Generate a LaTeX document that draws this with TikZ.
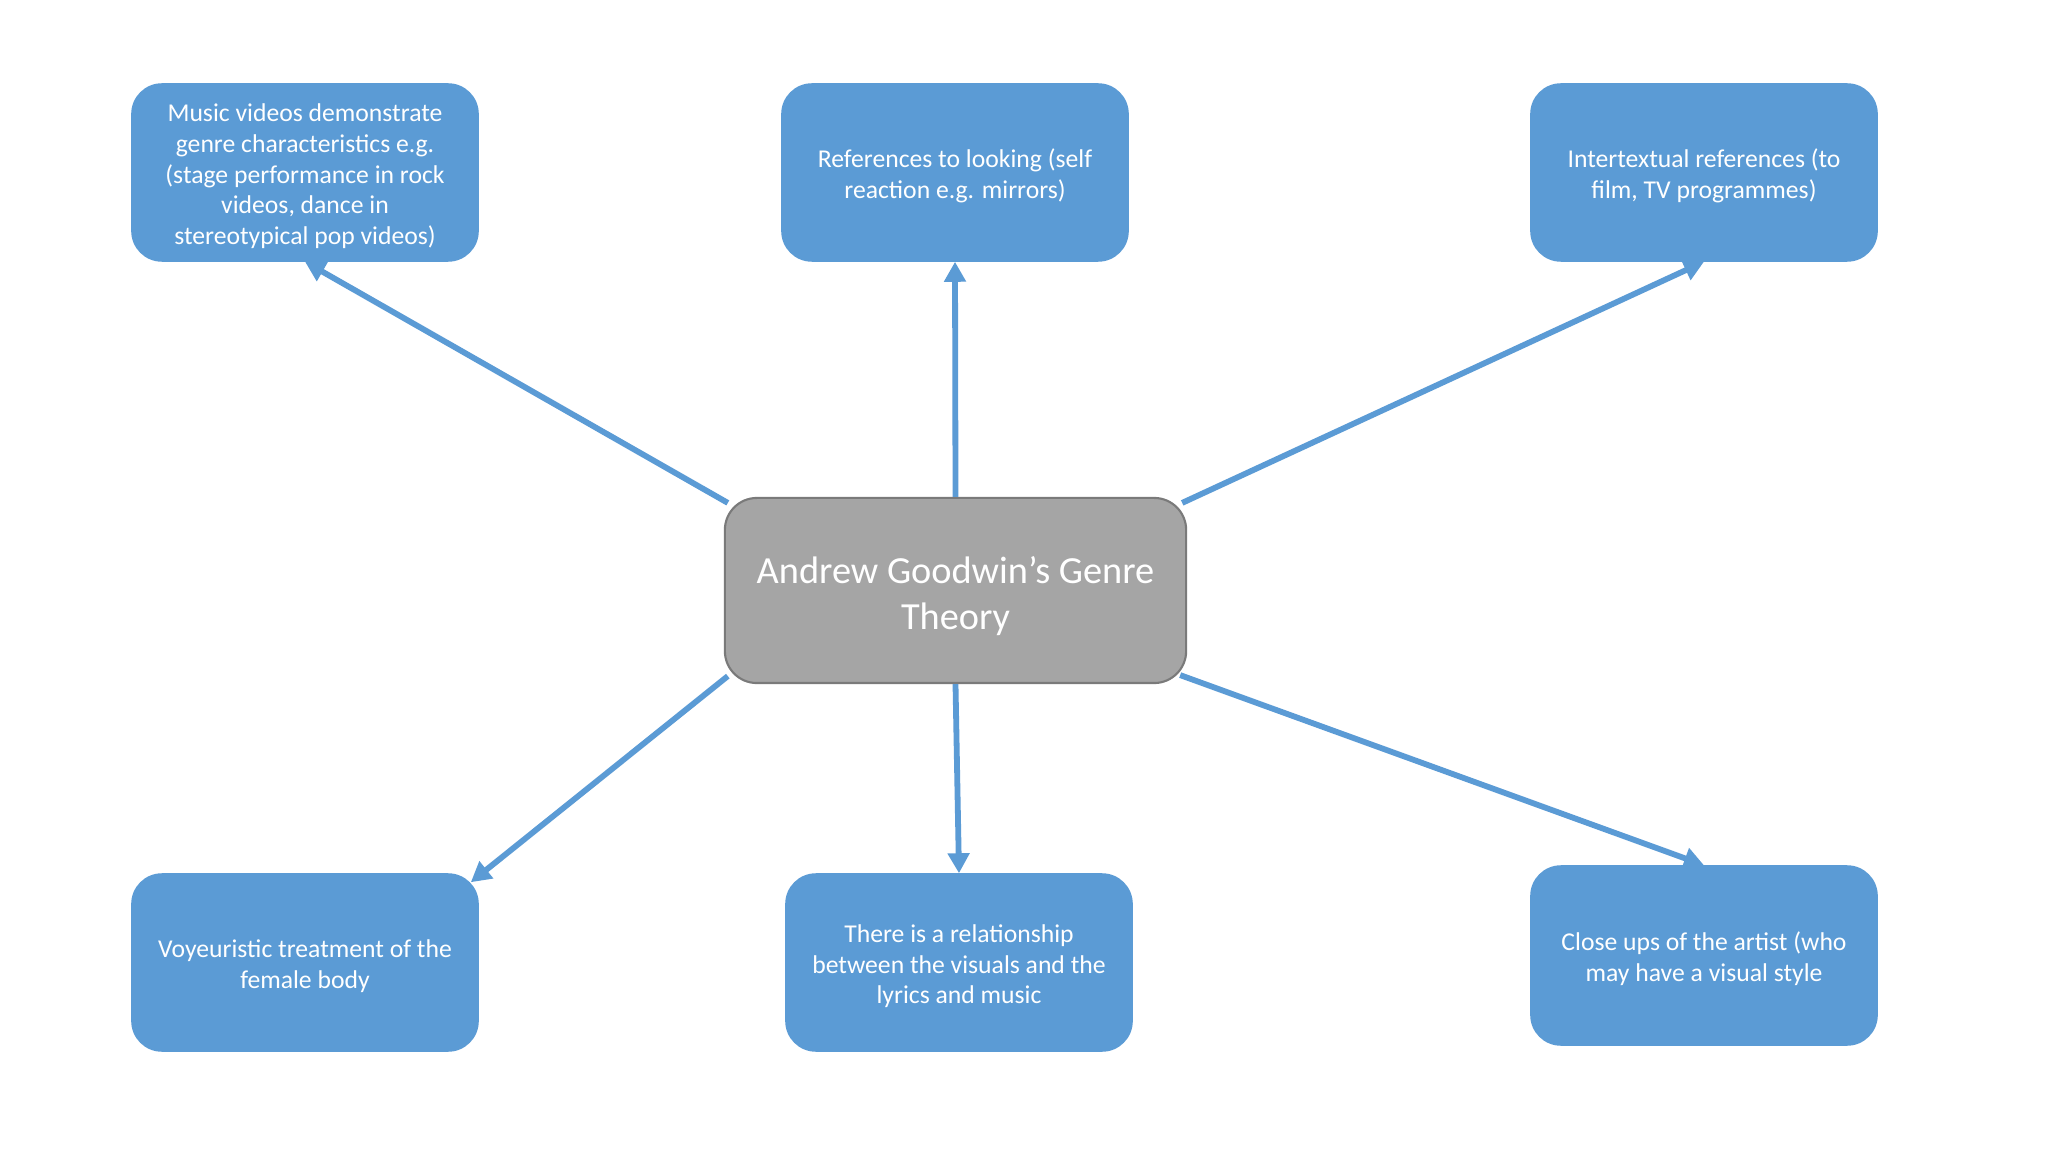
\documentclass[tikz,border=0pt]{standalone}
\usepackage{fontspec}
\setmainfont{Carlito}
\usetikzlibrary{arrows.meta,calc}
\definecolor{boxblue}{HTML}{5B9BD5}
\definecolor{boxgray}{HTML}{A5A5A5}
\definecolor{grayedge}{HTML}{7A7A7A}
\newcommand\myTopStrut{\rule{0pt}{1.1em}}
\newcommand\myBotStrut{\rule[-0.269em]{0pt}{0pt}}
\tikzset{
  bluebox/.style={draw=boxblue, fill=boxblue, rounded corners=0.3cm, minimum width=3.46cm, minimum height=1.77cm, align=center, text=white, font=\fontsize{7.3pt}{8.75pt}\selectfont, inner sep=0pt},
  centerbox/.style={draw=grayedge, line width=0.6pt, fill=boxgray, rounded corners=0.32cm, minimum width=4.61cm, minimum height=1.85cm, align=center, text=white, font=\fontsize{10.9pt}{13pt}\selectfont, inner sep=0pt},
  link/.style={draw=boxblue, line width=0.058cm, -{Triangle[length=0.2cm,width=0.21cm]}}
}
\begin{document}
\begin{tikzpicture}[x=0.01cm,y=-0.01cm]
\useasboundingbox[fill=white] (0,0) rectangle (2048,1152);
\node[centerbox] (c) at (955.5,590.5) {\myTopStrut Andrew Goodwin’s Genre\\Theory\myBotStrut};
\node[bluebox] (tl) at (305,172.5) {\myTopStrut Music videos demonstrate\\genre characteristics e.g.\\(stage performance in rock\\videos, dance in\\stereotypical pop videos)\myBotStrut};
\node[bluebox] (tm) at (955,172.5) {\myTopStrut References to looking (self\\reaction e.g. mirrors)\myBotStrut};
\node[bluebox] (tr) at (1704,172.5) {\myTopStrut Intertextual references (to\\film, TV programmes)\myBotStrut};
\node[bluebox] (bl) at (305,962.5) {\myTopStrut Voyeuristic treatment of the\\female body\myBotStrut};
\node[bluebox] (bm) at (959,962.5) {\myTopStrut There is a relationship\\between the visuals and the\\lyrics and music\myBotStrut};
\node[bluebox, minimum height=1.79cm] (br) at (1704,955.5) {\myTopStrut Close ups of the artist (who\\may have a visual style\myBotStrut};
\coordinate (blend) at ($(bl.north east)+(-8,9)$);
\draw[link] ($(c.north west)+(4,6)$) -- (tl.south);
\draw[link] (c.north) -- (tm.south);
\draw[link] ($(c.north east)+(-5,6)$) -- (tr.south);
\draw[link] ($(c.south west)+(4,-8)$) -- (blend);
\draw[link] (c.south) -- (bm.north);
\draw[link] ($(c.south east)+(-7,-9)$) -- (br.north);
\end{tikzpicture}
\end{document}
